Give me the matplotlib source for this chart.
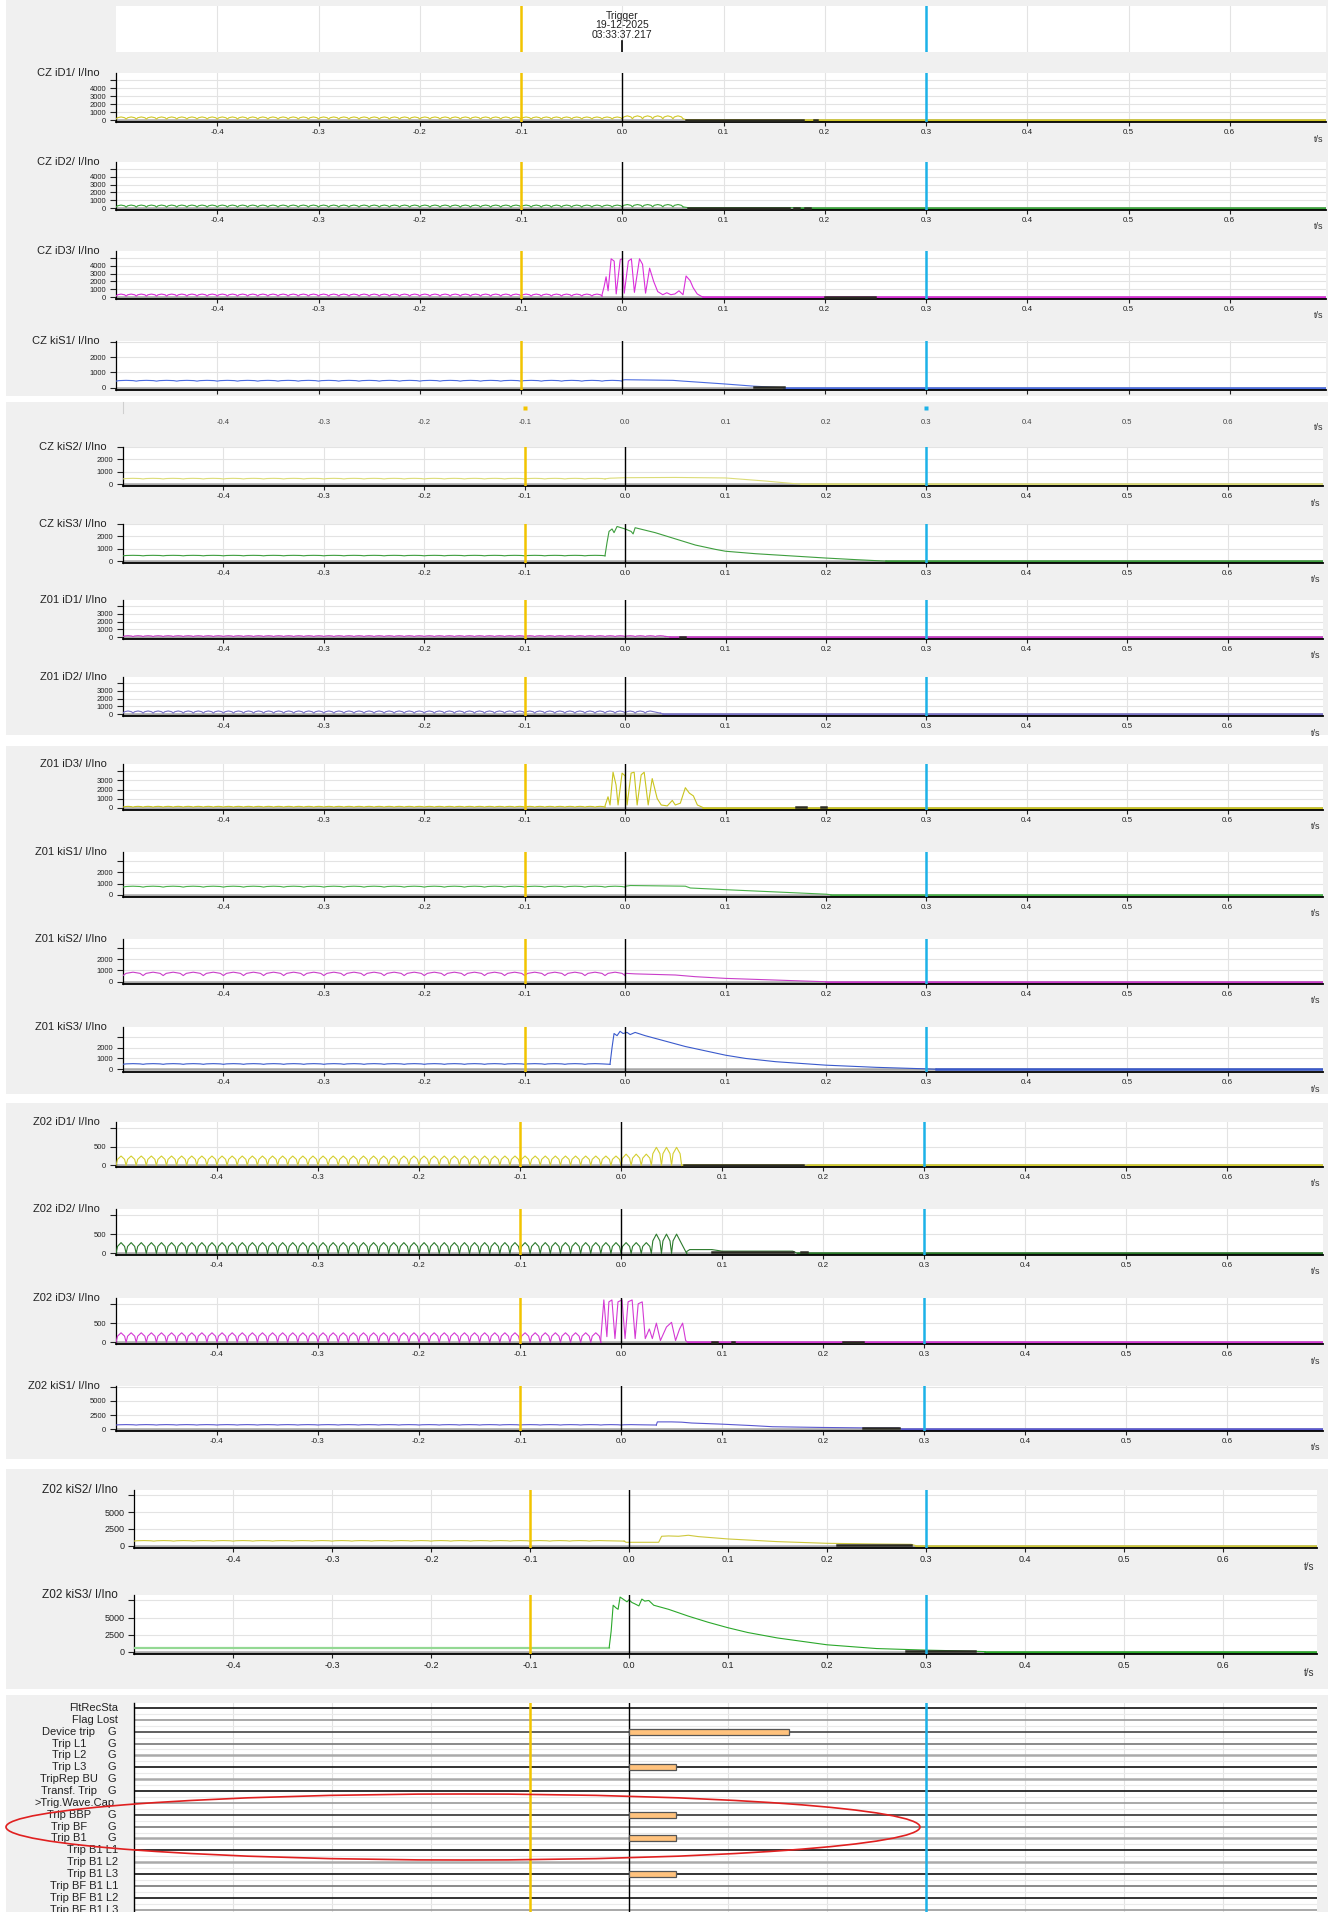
import matplotlib.pyplot as plt
from matplotlib.patches import Rectangle, Ellipse
from matplotlib.transforms import blended_transform_factory

plt.rcParams['font.family'] = ['Liberation Sans', 'DejaVu Sans']

# ---------------- time axis / cursors ----------------
T_START, T_END = -0.5, 0.695
X_TICKS = [-0.4, -0.3, -0.2, -0.1, 0.0, 0.1, 0.2, 0.3, 0.4, 0.5, 0.6]
X_LABELS = ['-0.4', '-0.3', '-0.2', '-0.1', '0.0', '0.1', '0.2', '0.3', '0.4', '0.5', '0.6']
CURSOR_1 = -0.1
CURSOR_2 = 0.3
TRIGGER_LABEL = 'Trigger\n19-12-2025\n03:33:37.217'

# ---------------- y scales (ticks / labels) ----------------
Y_TICKS_5K = [0, 1000, 2000, 3000, 4000, 5000]
Y_LABELS_5K = ['0', '1000', '2000', '3000', '4000', '']
Y_TICKS_4K = [0, 1000, 2000, 3000, 4000]
Y_LABELS_4K = ['0', '1000', '2000', '3000', '']
Y_TICKS_3K = [0, 1000, 2000, 3000]
Y_LABELS_3K = ['0', '1000', '2000', '']
Y_TICKS_1K = [0, 500, 1000]
Y_LABELS_1K = ['0', '500', '']
Y_TICKS_7K = [0, 2500, 5000, 7500]
Y_LABELS_7K = ['0', '2500', '5000', '']

# ---------------- analog channels ----------------
# ripple runs: (t_start, t_end, trough, peak); trace: (t, value) read from the record;
# dark: (t0, t1, value) dense dark parts; tail: where the trace sits on zero
CZ_ID1_RIPPLE = [(-0.5, 0.0, 120, 380), (0.0, 0.06, 150, 520)]
CZ_ID1_TRACE = [(0.06, 150), (0.063, 40), (0.178, 40), (0.18, 0)]
CZ_ID1_DARK = [(0.063, 0.178, 40), (0.189, 0.192, 40)]
CZ_ID1_TAIL = 0.18

CZ_ID2_RIPPLE = [(-0.5, 0.0, 120, 380), (0.0, 0.06, 150, 450)]
CZ_ID2_TRACE = [(0.06, 150), (0.065, 50), (0.17, 50), (0.172, 0)]
CZ_ID2_DARK = [(0.065, 0.165, 50), (0.17, 0.175, 30), (0.18, 0.185, 30)]
CZ_ID2_TAIL = 0.172

CZ_ID3_RIPPLE = [(-0.5, -0.02, 120, 380)]
CZ_ID3_TRACE = [(-0.02, 300), (-0.018, 1300), (-0.016, 2600), (-0.014, 800), (-0.011, 4900),
                (-0.008, 4600), (-0.006, 400), (-0.002, 4800), (0.0, 4900), (0.002, 500),
                (0.006, 4600), (0.009, 4900), (0.012, 600), (0.017, 4900), (0.02, 4200),
                (0.023, 500), (0.027, 3700), (0.031, 2000), (0.035, 700), (0.04, 300),
                (0.044, 550), (0.048, 300), (0.052, 400), (0.056, 800), (0.06, 300),
                (0.063, 2700), (0.067, 2100), (0.07, 1200), (0.074, 400), (0.078, 100), (0.08, 0)]
CZ_ID3_DARK = [(0.2, 0.25, 30)]
CZ_ID3_TAIL = 0.08

CZ_KIS1_RIPPLE = [(-0.5, 0.0, 430, 480)]
CZ_KIS1_TRACE = [(0.0, 500), (0.003, 520), (0.05, 480), (0.06, 430), (0.1, 250), (0.13, 100), (0.16, 0)]
CZ_KIS1_DARK = [(0.13, 0.16, 40)]
CZ_KIS1_TAIL = 0.16

CZ_KIS2_RIPPLE = [(-0.5, -0.02, 420, 470)]
CZ_KIS2_TRACE = [(-0.02, 430), (-0.015, 480), (0.0, 520), (0.05, 540), (0.1, 500), (0.14, 250),
                 (0.17, 30), (0.175, 0)]
CZ_KIS2_DARK = []
CZ_KIS2_TAIL = 0.175

CZ_KIS3_RIPPLE = [(-0.5, -0.02, 430, 470)]
CZ_KIS3_TRACE = [(-0.02, 450), (-0.018, 1500), (-0.016, 2400), (-0.013, 2600), (-0.011, 2300),
                 (-0.008, 2800), (-0.004, 2700), (0.0, 2600), (0.006, 2400), (0.008, 2200),
                 (0.01, 2700), (0.015, 2600), (0.03, 2300), (0.05, 1800), (0.07, 1300),
                 (0.09, 950), (0.1, 800), (0.13, 600), (0.17, 400), (0.2, 250), (0.23, 120),
                 (0.255, 20), (0.26, 0)]
CZ_KIS3_DARK = []
CZ_KIS3_TAIL = 0.26

Z01_ID1_RIPPLE = [(-0.5, 0.04, 60, 180)]
Z01_ID1_TRACE = [(0.04, 100), (0.045, 0)]
Z01_ID1_DARK = [(0.055, 0.06, 30)]
Z01_ID1_TAIL = 0.045

Z01_ID2_RIPPLE = [(-0.5, 0.035, 120, 400)]
Z01_ID2_TRACE = [(0.035, 150), (0.038, 0)]
Z01_ID2_DARK = []
Z01_ID2_TAIL = 0.038

Z01_ID3_RIPPLE = [(-0.5, -0.02, 60, 150)]
Z01_ID3_TRACE = [(-0.02, 200), (-0.017, 1200), (-0.015, 300), (-0.012, 3900), (-0.009, 2500),
                 (-0.007, 300), (-0.003, 3800), (0.0, 3500), (0.002, 300), (0.006, 3800),
                 (0.009, 3900), (0.012, 300), (0.016, 3600), (0.019, 3900), (0.023, 300),
                 (0.027, 3200), (0.032, 1000), (0.036, 300), (0.042, 200), (0.047, 800),
                 (0.05, 300), (0.055, 500), (0.06, 2200), (0.064, 1600), (0.068, 1300),
                 (0.072, 300), (0.078, 0)]
Z01_ID3_DARK = [(0.17, 0.18, 60), (0.195, 0.2, 60)]
Z01_ID3_TAIL = 0.078

Z01_KIS1_RIPPLE = [(-0.5, 0.0, 680, 760)]
Z01_KIS1_TRACE = [(0.0, 750), (0.005, 820), (0.06, 760), (0.065, 600), (0.1, 450), (0.15, 250),
                  (0.2, 50), (0.205, 0)]
Z01_KIS1_DARK = []
Z01_KIS1_TAIL = 0.205

Z01_KIS2_RIPPLE = [(-0.5, 0.0, 550, 850)]
Z01_KIS2_TRACE = [(0.0, 750), (0.01, 700), (0.05, 600), (0.07, 450), (0.1, 300), (0.15, 150),
                  (0.19, 30), (0.2, 0)]
Z01_KIS2_DARK = []
Z01_KIS2_TAIL = 0.2

Z01_KIS3_RIPPLE = [(-0.5, -0.015, 460, 520)]
Z01_KIS3_TRACE = [(-0.015, 480), (-0.013, 2000), (-0.011, 3300), (-0.008, 3100), (-0.005, 3500),
                  (-0.002, 3300), (0.002, 3400), (0.005, 3200), (0.01, 3400), (0.02, 3100),
                  (0.04, 2600), (0.06, 2100), (0.08, 1700), (0.1, 1300), (0.12, 1000),
                  (0.15, 700), (0.2, 380), (0.25, 180), (0.3, 40), (0.31, 0)]
Z01_KIS3_DARK = []
Z01_KIS3_TAIL = 0.31

Z02_ID1_RIPPLE = [(-0.5, 0.0, 0, 250), (0.0, 0.03, 0, 300), (0.03, 0.06, 0, 480)]
Z02_ID1_TRACE = [(0.06, 0), (0.062, 15), (0.18, 15), (0.185, 0)]
Z02_ID1_DARK = [(0.062, 0.18, 15)]
Z02_ID1_TAIL = 0.185

Z02_ID2_RIPPLE = [(-0.5, 0.03, 0, 280), (0.03, 0.065, 0, 500)]
Z02_ID2_TRACE = [(0.065, 50), (0.068, 100), (0.09, 100), (0.1, 60), (0.17, 60), (0.175, 0)]
Z02_ID2_DARK = [(0.09, 0.17, 40), (0.178, 0.184, 30)]
Z02_ID2_TAIL = 0.175

Z02_ID3_RIPPLE = [(-0.5, -0.02, 0, 250)]
Z02_ID3_TRACE = [(-0.02, 100), (-0.017, 1100), (-0.014, 150), (-0.012, 1050), (-0.009, 1100),
                 (-0.006, 100), (-0.003, 1050), (0.001, 1100), (0.004, 100), (0.007, 1050),
                 (0.011, 1100), (0.014, 100), (0.017, 1000), (0.021, 1050), (0.024, 100),
                 (0.028, 350), (0.031, 100), (0.035, 500), (0.039, 50), (0.045, 400),
                 (0.05, 520), (0.054, 50), (0.058, 350), (0.061, 500), (0.064, 50), (0.066, 0)]
Z02_ID3_DARK = [(0.09, 0.095, 20), (0.11, 0.112, 20), (0.22, 0.24, 20)]
Z02_ID3_TAIL = 0.066

Z02_KIS1_RIPPLE = [(-0.5, 0.035, 750, 820)]
Z02_KIS1_TRACE = [(0.035, 800), (0.036, 1300), (0.05, 1300), (0.06, 1250), (0.07, 1100),
                  (0.1, 900), (0.13, 650), (0.15, 450), (0.2, 320), (0.24, 250), (0.275, 230),
                  (0.278, 0)]
Z02_KIS1_DARK = [(0.24, 0.275, 230)]
Z02_KIS1_TAIL = 0.278

Z02_KIS2_RIPPLE = [(-0.5, -0.005, 680, 760)]
Z02_KIS2_TRACE = [(-0.005, 700), (-0.003, 500), (0.03, 500), (0.033, 1400), (0.04, 1450),
                  (0.05, 1400), (0.06, 1550), (0.07, 1350), (0.1, 1000), (0.15, 600),
                  (0.2, 350), (0.25, 250), (0.285, 200), (0.29, 0)]
Z02_KIS2_DARK = [(0.21, 0.285, 150)]
Z02_KIS2_TAIL = 0.29

Z02_KIS3_RIPPLE = [(-0.5, -0.02, 600, 600)]
Z02_KIS3_TRACE = [(-0.02, 600), (-0.018, 3000), (-0.016, 6800), (-0.013, 6400), (-0.011, 6200),
                  (-0.009, 8000), (-0.007, 7800), (-0.004, 7500), (-0.002, 7300), (0.0, 7600),
                  (0.003, 7200), (0.006, 7000), (0.01, 6700), (0.013, 7700), (0.016, 7400),
                  (0.02, 7500), (0.025, 6800), (0.04, 6200), (0.06, 5200), (0.08, 4300),
                  (0.1, 3500), (0.12, 2800), (0.15, 2000), (0.18, 1400), (0.2, 1000),
                  (0.25, 450), (0.3, 220), (0.33, 120), (0.35, 40), (0.36, 0)]
Z02_KIS3_DARK = [(0.28, 0.35, 80)]
Z02_KIS3_TAIL = 0.36

# ---------------- binary channels ----------------
BIN_NAMES = ['FltRecSta', 'Flag Lost', 'Device trip', 'Trip L1', 'Trip L2', 'Trip L3',
             'TripRep BU', 'Transf. Trip', '>Trig.Wave.Cap.', 'Trip BBP', 'Trip BF', 'Trip B1',
             'Trip B1 L1', 'Trip B1 L2', 'Trip B1 L3', 'Trip BF B1 L1', 'Trip BF B1 L2',
             'Trip BF B1 L3']
BIN_FLAGS = ['', '', 'G', 'G', 'G', 'G', 'G', 'G', '', 'G', 'G', 'G', '', '', '', '', '', '']
BIN_ON = [(2, 0.0, 0.162), (5, 0.0, 0.048), (9, 0.0, 0.048), (11, 0.0, 0.048), (14, 0.0, 0.048)]

# ---------------- styles / layout (pixels of the 1335x1912 image) ----------------
W, H = 1335, 1912
YELLOW = '#F2C400'
CYAN = '#1CB2E8'
GRID = '#E3E3E3'
BG = '#F0F0F0'
DARK = '#2B2B22'
BIN_LINE_COLORS = ['#111111', '#999999', '#444444', '#777777', '#AAAAAA', '#111111', '#AAAAAA',
                   '#111111', '#999999', '#333333', '#777777', '#AAAAAA', '#111111', '#AAAAAA',
                   '#111111', '#777777', '#111111', '#999999']
PRE_COLORS = {'Z02 kiS3': '#93D893'}

BLOCK_BG = [(0, 396), (402, 735), (746, 1094), (1103, 1459), (1469, 1689), (1695, 1912)]

CHANNELS = [
    # name, color, ripple, trace, dark, tail, ylim, yticks, ylabels, (x0, x1, y0, y1), xlabels, big
    ('CZ iD1', '#D2C82A', CZ_ID1_RIPPLE, CZ_ID1_TRACE, CZ_ID1_DARK, CZ_ID1_TAIL, (-250, 5900), Y_TICKS_5K, Y_LABELS_5K, (116, 1326, 73, 122), True, False),
    ('CZ iD2', '#3BA53B', CZ_ID2_RIPPLE, CZ_ID2_TRACE, CZ_ID2_DARK, CZ_ID2_TAIL, (-250, 5900), Y_TICKS_5K, Y_LABELS_5K, (116, 1326, 162, 210), True, False),
    ('CZ iD3', '#DA2FDA', CZ_ID3_RIPPLE, CZ_ID3_TRACE, CZ_ID3_DARK, CZ_ID3_TAIL, (-250, 5900), Y_TICKS_5K, Y_LABELS_5K, (116, 1326, 251, 299), True, False),
    ('CZ kiS1', '#4A6BE0', CZ_KIS1_RIPPLE, CZ_KIS1_TRACE, CZ_KIS1_DARK, CZ_KIS1_TAIL, (-150, 3050), Y_TICKS_3K, Y_LABELS_3K, (116, 1326, 341, 390), False, False),
    ('CZ kiS2', '#DCDC78', CZ_KIS2_RIPPLE, CZ_KIS2_TRACE, CZ_KIS2_DARK, CZ_KIS2_TAIL, (-150, 3000), Y_TICKS_3K, Y_LABELS_3K, (123, 1323, 447, 486), True, False),
    ('CZ kiS3', '#3E9E3E', CZ_KIS3_RIPPLE, CZ_KIS3_TRACE, CZ_KIS3_DARK, CZ_KIS3_TAIL, (-150, 3000), Y_TICKS_3K, Y_LABELS_3K, (123, 1323, 524, 563), True, False),
    ('Z01 iD1', '#C83CC8', Z01_ID1_RIPPLE, Z01_ID1_TRACE, Z01_ID1_DARK, Z01_ID1_TAIL, (-250, 4800), Y_TICKS_4K, Y_LABELS_4K, (123, 1323, 600, 639), True, False),
    ('Z01 iD2', '#7B74C8', Z01_ID2_RIPPLE, Z01_ID2_TRACE, Z01_ID2_DARK, Z01_ID2_TAIL, (-250, 4800), Y_TICKS_4K, Y_LABELS_4K, (123, 1323, 677, 716), True, False),
    ('Z01 iD3', '#C9C41E', Z01_ID3_RIPPLE, Z01_ID3_TRACE, Z01_ID3_DARK, Z01_ID3_TAIL, (-250, 4800), Y_TICKS_4K, Y_LABELS_4K, (123, 1323, 764, 810), True, False),
    ('Z01 kiS1', '#49B049', Z01_KIS1_RIPPLE, Z01_KIS1_TRACE, Z01_KIS1_DARK, Z01_KIS1_TAIL, (-200, 3800), Y_TICKS_3K, Y_LABELS_3K, (123, 1323, 852, 897), True, False),
    ('Z01 kiS2', '#C93EC9', Z01_KIS2_RIPPLE, Z01_KIS2_TRACE, Z01_KIS2_DARK, Z01_KIS2_TAIL, (-200, 3800), Y_TICKS_3K, Y_LABELS_3K, (123, 1323, 939, 984), True, False),
    ('Z01 kiS3', '#3A5ACC', Z01_KIS3_RIPPLE, Z01_KIS3_TRACE, Z01_KIS3_DARK, Z01_KIS3_TAIL, (-250, 3900), Y_TICKS_3K, Y_LABELS_3K, (123, 1323, 1027, 1072), True, False),
    ('Z02 iD1', '#D4CE30', Z02_ID1_RIPPLE, Z02_ID1_TRACE, Z02_ID1_DARK, Z02_ID1_TAIL, (-40, 1150), Y_TICKS_1K, Y_LABELS_1K, (116, 1323, 1122, 1167), True, False),
    ('Z02 iD2', '#2C7A2C', Z02_ID2_RIPPLE, Z02_ID2_TRACE, Z02_ID2_DARK, Z02_ID2_TAIL, (-40, 1150), Y_TICKS_1K, Y_LABELS_1K, (116, 1323, 1209, 1255), True, False),
    ('Z02 iD3', '#D43AD4', Z02_ID3_RIPPLE, Z02_ID3_TRACE, Z02_ID3_DARK, Z02_ID3_TAIL, (-40, 1150), Y_TICKS_1K, Y_LABELS_1K, (116, 1323, 1298, 1344), True, False),
    ('Z02 kiS1', '#5A58D0', Z02_KIS1_RIPPLE, Z02_KIS1_TRACE, Z02_KIS1_DARK, Z02_KIS1_TAIL, (-300, 7600), Y_TICKS_7K, Y_LABELS_7K, (116, 1323, 1386, 1431), True, False),
    ('Z02 kiS2', '#CEC83C', Z02_KIS2_RIPPLE, Z02_KIS2_TRACE, Z02_KIS2_DARK, Z02_KIS2_TAIL, (-350, 8300), Y_TICKS_7K, Y_LABELS_7K, (134, 1317, 1490, 1548), True, True),
    ('Z02 kiS3', '#2BA82B', Z02_KIS3_RIPPLE, Z02_KIS3_TRACE, Z02_KIS3_DARK, Z02_KIS3_TAIL, (-350, 8300), Y_TICKS_7K, Y_LABELS_7K, (134, 1317, 1595, 1654), True, True),
]

# one hump of the record: relative offsets inside a half cycle and relative height
HUMP_OFFSETS = [0.0, 0.15, 0.5, 0.85]
HUMP_LEVELS = [0.0, 0.65, 1.0, 0.65]
PERIOD_ID = 0.01    # differential currents: one hump per half cycle
PERIOD_KIS = 0.02   # stabilising currents: slower ripple


def px_axes(fig, x0, x1, y0, y1):
    return fig.add_axes([x0 / W, 1 - y1 / H, (x1 - x0) / W, (y1 - y0) / H])


def ripple_points(runs, period):
    pts = []
    for t0, t1, lo, hi in runs:
        t = t0
        while t + period <= t1 + 1e-6:
            for off, lev in zip(HUMP_OFFSETS, HUMP_LEVELS):
                pts.append((t + off * period, lo + lev * (hi - lo)))
            t += period
        pts.append((t1, lo))
    return pts


def style_time_axis(ax):
    ax.set_xlim(T_START, T_END)
    ax.set_xticks(X_TICKS)
    ax.grid(True, color=GRID, lw=0.8)
    ax.set_axisbelow(True)


fig = plt.figure(figsize=(W / 100, H / 100), dpi=100)
fig.patch.set_facecolor('white')

for y0, y1 in BLOCK_BG:
    fig.add_artist(Rectangle((6 / W, 1 - y1 / H), (1328 - 6) / W, (y1 - y0) / H,
                             transform=fig.transFigure, facecolor=BG, edgecolor='none', zorder=-5))

# header with trigger time
axh = px_axes(fig, 116, 1326, 6, 52)
style_time_axis(axh)
axh.set_ylim(0, 1)
axh.set_yticks([])
axh.tick_params(axis='x', length=0, labelbottom=False)
for s in axh.spines.values():
    s.set_visible(False)
axh.axvline(CURSOR_1, color=YELLOW, lw=1.8)
axh.axvline(CURSOR_2, color=CYAN, lw=1.8)
axh.plot([0, 0], [0, 0.25], color='black', lw=1.2)
axh.text(0, 0.9, TRIGGER_LABEL, ha='center', va='top', fontsize=7.5, linespacing=0.95, color='#222222')

# second block: tick row with cursor markers
axt = px_axes(fig, 123, 1323, 403, 413)
axt.set_xlim(T_START, T_END)
axt.set_ylim(0, 1)
axt.axis('off')
for t, lab in zip(X_TICKS, X_LABELS):
    axt.text(t, -0.9, lab, ha='center', va='center', fontsize=5.5, color='#444444')
axt.text(T_END, -1.5, 't/s', ha='right', va='center', fontsize=6.5, color='#333333')
axt.plot([CURSOR_1], [0.5], marker='s', ms=3.5, color=YELLOW, mec='none')
axt.plot([CURSOR_2], [0.5], marker='s', ms=3.5, color=CYAN, mec='none')
axt.plot([T_START, T_START], [0, 1.1], color='#CFCFCF', lw=0.8, clip_on=False)

# analog channels
for (name, color, ripple, trace, dark, tail, ylim, yticks, ylabels,
     box, xlabels, big) in CHANNELS:
    x0, x1, y0, y1 = box
    ax = px_axes(fig, x0, x1, y0, y1)
    style_time_axis(ax)
    ax.set_ylim(*ylim)
    ax.set_yticks(yticks)
    ax.set_yticklabels(ylabels)
    ax.set_xticklabels(X_LABELS if xlabels else [])
    ax.tick_params(axis='x', labelsize=6.5 if big else 5.8, length=3, width=0.8, pad=2, colors='#222222')
    ax.tick_params(axis='y', labelsize=6.5 if big else 5.5, length=4, width=0.8, pad=3, colors='#222222')
    for s in ['top', 'right']:
        ax.spines[s].set_visible(False)
    ax.spines['left'].set_linewidth(0.9)
    ax.spines['bottom'].set_linewidth(1.3)

    period = PERIOD_ID if ' iD' in name else PERIOD_KIS
    ax.axhline(0, color='#A8A8A8', lw=1.8, zorder=1)
    pre = ripple_points(ripple, period)
    ax.plot([p[0] for p in pre], [p[1] for p in pre], color=PRE_COLORS.get(name, color),
            lw=1.6 if name in PRE_COLORS else 0.8, zorder=3)
    ax.plot([pre[-1][0]] + [p[0] for p in trace], [pre[-1][1]] + [p[1] for p in trace],
            color=color, lw=0.8, zorder=3)
    for a, b, v in dark:
        ax.plot([a, b], [v, v], color=DARK, lw=1.8, zorder=3)
    ax.plot([tail, T_END], [0, 0], color=color, lw=1.8, zorder=2)

    ax.axvline(0, color='black', lw=1.0, zorder=4)
    ax.axvline(CURSOR_1, color=YELLOW, lw=1.8, zorder=5)
    ax.axvline(CURSOR_2, color=CYAN, lw=1.8, zorder=5)

    ax.annotate(name + '/ I/Ino', xy=(0, 1), xycoords='axes fraction',
                xytext=(-16, 0), textcoords='offset pixels', ha='right', va='center',
                fontsize=8.5 if big else 8, color='#222222')
    if xlabels:
        ax.annotate('t/s', xy=(1, 0), xycoords='axes fraction', xytext=(-3, -19 if big else -17),
                    textcoords='offset pixels', ha='right', va='center',
                    fontsize=7 if big else 6.5, color='#333333')

# binary channels
axb = px_axes(fig, 134, 1317, 1703, 1912)
axb.set_xlim(T_START, T_END)
axb.set_ylim(17.2, -0.42)
axb.set_facecolor('white')
for t in X_TICKS:
    axb.axvline(t, color=GRID, lw=0.8, zorder=0)
for s in ['top', 'right', 'bottom']:
    axb.spines[s].set_visible(False)
axb.spines['left'].set_linewidth(1.0)
axb.set_xticks([])
axb.set_yticks([])
for i, lc in enumerate(BIN_LINE_COLORS):
    axb.axhline(i + 0.5, color='#EAEAEA', lw=0.8, zorder=1)
    axb.axhline(i, color=lc, lw=1.8 if lc == '#AAAAAA' else 1.2, zorder=2)
for row, t_on, t_off in BIN_ON:
    axb.barh(row, t_off - t_on, left=t_on, height=0.5, color='#FFC27D',
             edgecolor='#555555', linewidth=0.9, zorder=6)
axb.axvline(0, color='black', lw=1.0, zorder=4)
axb.axvline(CURSOR_1, color=YELLOW, lw=1.8, zorder=5)
axb.axvline(CURSOR_2, color=CYAN, lw=1.8, zorder=5)

lab_tr = blended_transform_factory(fig.transFigure, axb.transData)
for i, (nm, fl) in enumerate(zip(BIN_NAMES, BIN_FLAGS)):
    if fl:
        fig.text(69 / W, i, nm, transform=lab_tr, ha='center', va='center', fontsize=8, color='#222222')
        fig.text(112 / W, i, fl, transform=lab_tr, ha='center', va='center', fontsize=8, color='#222222')
    else:
        fig.text(118 / W, i, nm, transform=lab_tr, ha='right', va='center', fontsize=8, color='#222222')

# red annotation ellipse
fig.add_artist(Ellipse((463 / W, 1 - 1827 / H), 914 / W, 66 / H, transform=fig.transFigure,
                       facecolor='none', edgecolor='#E02020', lw=1.2, zorder=20))

fig.savefig('out.png', dpi=100)
